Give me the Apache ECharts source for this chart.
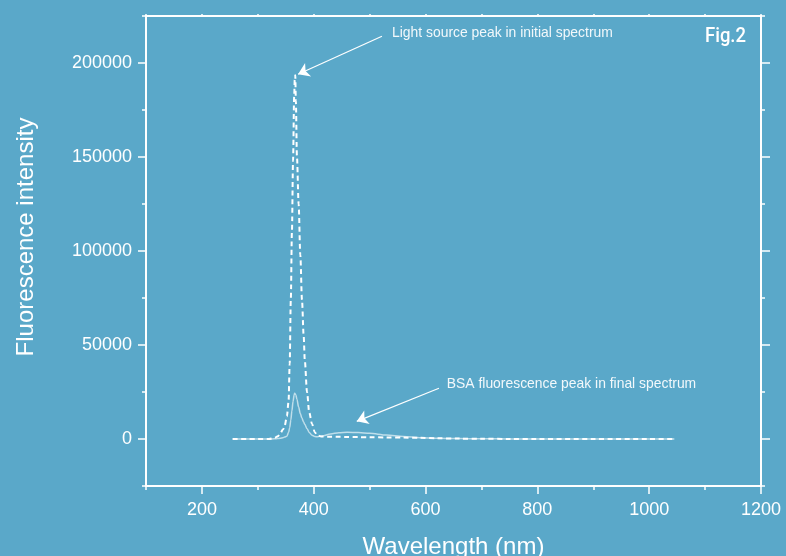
<!DOCTYPE html>
<html>
<head>
<meta charset="utf-8">
<script src="https://cdn.jsdelivr.net/npm/echarts@6/dist/echarts.min.js"></script>
<style>
html,body{margin:0;padding:0;background:#5aa8c9;}
#chart{width:786px;height:556px;}
</style>
</head>
<body>
<div id="chart"></div>
<script>
// ---- data ----
const wavelength = [255, 280, 300, 320, 330, 336, 340, 345, 348, 352, 355, 357, 359, 361, 363, 365, 366, 367, 368, 370, 373, 376, 379, 382, 384, 388, 392, 397, 402, 407, 415, 430, 445, 460, 480, 500, 530, 560, 590, 620, 660, 700, 750, 800, 900, 1000, 1045];
const initialSpectrum = [0, 0, 0, 0, 600, 1500, 3000, 5000, 7000, 12000, 20000, 40000, 74000, 110000, 148000, 182000, 191000, 193500, 180000, 150000, 125000, 98000, 74000, 55000, 42000, 25000, 14000, 8000, 3500, 1800, 1300, 1200, 1150, 1100, 1000, 950, 850, 750, 600, 400, 200, 100, 50, 0, 0, 0, 0];
const finalSpectrum = [0, 0, 0, 0, 100, 200, 400, 700, 1000, 1500, 3500, 6000, 10000, 15000, 20000, 23500, 24400, 24300, 23500, 21000, 17000, 13500, 11000, 9000, 7800, 5500, 3500, 2000, 1300, 1200, 1600, 2700, 3300, 3600, 3400, 3000, 2100, 1300, 700, 400, 200, 100, 50, 0, 0, 0, 0];

const xMajorTicks = [200, 400, 600, 800, 1000, 1200];
const xMinorTicks = [100, 300, 500, 700, 900, 1100];
const xTopTicks = [100, 200, 300, 400, 500, 600, 700, 800, 900, 1000, 1100, 1200];
const yMajorTicks = [0, 50000, 100000, 150000, 200000];
const yMinorTicks = [-25000, 25000, 75000, 125000, 175000, 225000];

const annotationTexts = ['Light source peak in initial spectrum', 'BSA fluorescence peak in final spectrum'];
const arrow1 = [[522, 214200], [372, 194000]];
const arrow2 = [[624, 27000], [477, 9400]];
const textAnchors = [[540, 215800], [638, 29200]];

// ---- chart ----
const WHITE = '#ffffff';
const FONT = 'Liberation Sans, Arial, sans-serif';
const chart = echarts.init(document.getElementById('chart'), null, {renderer: 'canvas'});
const xBase = {type: 'value', min: 100, max: 1200, gridIndex: 0, splitLine: {show: false}};
const yBase = {type: 'value', min: -25000, max: 225000, gridIndex: 0, splitLine: {show: false}};
const plainNum = v => String(v);

const option = {
  backgroundColor: '#5aa8c9',
  animation: false,
  grid: {left: 146, right: 25, top: 16, bottom: 70, containLabel: false, outerBoundsMode: 'none'},
  xAxis: [
    Object.assign({}, xBase, {
      position: 'bottom',
      axisLine: {show: true, onZero: false, lineStyle: {color: WHITE, width: 2}},
      axisTick: {show: true, length: 8, customValues: xMajorTicks, lineStyle: {color: WHITE, width: 1.5}},
      axisLabel: {show: true, customValues: xMajorTicks, formatter: plainNum, color: WHITE, fontSize: 18, margin: 15, fontFamily: FONT},
      name: 'Wavelength (nm)', nameLocation: 'middle', nameGap: 49, nameMoveOverlap: false,
      nameTextStyle: {color: WHITE, fontSize: 24, fontFamily: FONT}
    }),
    Object.assign({}, xBase, {
      position: 'bottom',
      axisLine: {show: false, onZero: false},
      axisTick: {show: true, length: 4, customValues: xMinorTicks, lineStyle: {color: WHITE, width: 1.5}},
      axisLabel: {show: false}
    }),
    Object.assign({}, xBase, {
      position: 'top',
      axisLine: {show: true, onZero: false, lineStyle: {color: WHITE, width: 2}},
      axisTick: {show: true, length: 2, customValues: xTopTicks, lineStyle: {color: WHITE, width: 1.5}},
      axisLabel: {show: false}
    })
  ],
  yAxis: [
    Object.assign({}, yBase, {
      position: 'left',
      axisLine: {show: true, onZero: false, lineStyle: {color: WHITE, width: 2}},
      axisTick: {show: true, length: 8, customValues: yMajorTicks, lineStyle: {color: WHITE, width: 1.5}},
      axisLabel: {show: true, customValues: yMajorTicks, formatter: plainNum, color: WHITE, fontSize: 18, margin: 14, fontFamily: FONT},
      name: 'Fluorescence intensity', nameLocation: 'middle', nameGap: 108, nameRotate: 90, nameMoveOverlap: false,
      nameTextStyle: {color: WHITE, fontSize: 24, fontFamily: FONT, padding: [0, 0, 0, 28]}
    }),
    Object.assign({}, yBase, {
      position: 'left',
      axisLine: {show: false, onZero: false},
      axisTick: {show: true, length: 4, customValues: yMinorTicks, lineStyle: {color: WHITE, width: 1.5}},
      axisLabel: {show: false}
    }),
    Object.assign({}, yBase, {
      position: 'right',
      axisLine: {show: true, onZero: false, lineStyle: {color: WHITE, width: 2}},
      axisTick: {show: true, length: 9, customValues: yMajorTicks, lineStyle: {color: WHITE, width: 1.5}},
      axisLabel: {show: false}
    }),
    Object.assign({}, yBase, {
      position: 'right',
      axisLine: {show: false, onZero: false},
      axisTick: {show: true, length: 4, customValues: yMinorTicks, lineStyle: {color: WHITE, width: 1.5}},
      axisLabel: {show: false}
    })
  ],
  series: [
    {
      name: 'Final spectrum', type: 'line', xAxisIndex: 0, yAxisIndex: 0,
      data: wavelength.map((w, i) => [w, finalSpectrum[i]]),
      showSymbol: false, symbol: 'none', smooth: 0.3, smoothMonotone: 'x',
      lineStyle: {color: '#bfdeea', width: 1.5}
    },
    {
      name: 'Initial spectrum', type: 'line', xAxisIndex: 0, yAxisIndex: 0,
      data: wavelength.map((w, i) => [w, initialSpectrum[i]]),
      showSymbol: false, symbol: 'none', smooth: 0.3, smoothMonotone: 'x',
      lineStyle: {color: WHITE, width: 2, type: [5, 3.5]},
      markLine: {
        silent: true, animation: false,
        symbol: ['none', 'arrow'], symbolSize: 11,
        label: {show: false},
        lineStyle: {color: WHITE, type: 'solid', width: 1.2},
        data: [
          [{coord: arrow1[0]}, {coord: arrow1[1]}],
          [{coord: arrow2[0]}, {coord: arrow2[1]}]
        ]
      },
      markPoint: {
        silent: true, animation: false,
        data: textAnchors.map((c, i) => ({
          coord: c, symbol: 'circle', symbolSize: 0,
          itemStyle: {color: 'rgba(0,0,0,0)'},
          label: {show: true, position: 'right', distance: 0, formatter: annotationTexts[i],
                  color: '#f2f8fb', fontSize: 13.9, fontFamily: FONT}
        }))
      }
    }
  ],
  graphic: [
    {type: 'text', left: 705, top: 26, scaleX: 0.88,
     style: {text: 'Fig.2', fill: WHITE, font: '500 21px Roboto, sans-serif'}}
  ]
};
chart.setOption(option);
</script>
</body>
</html>
